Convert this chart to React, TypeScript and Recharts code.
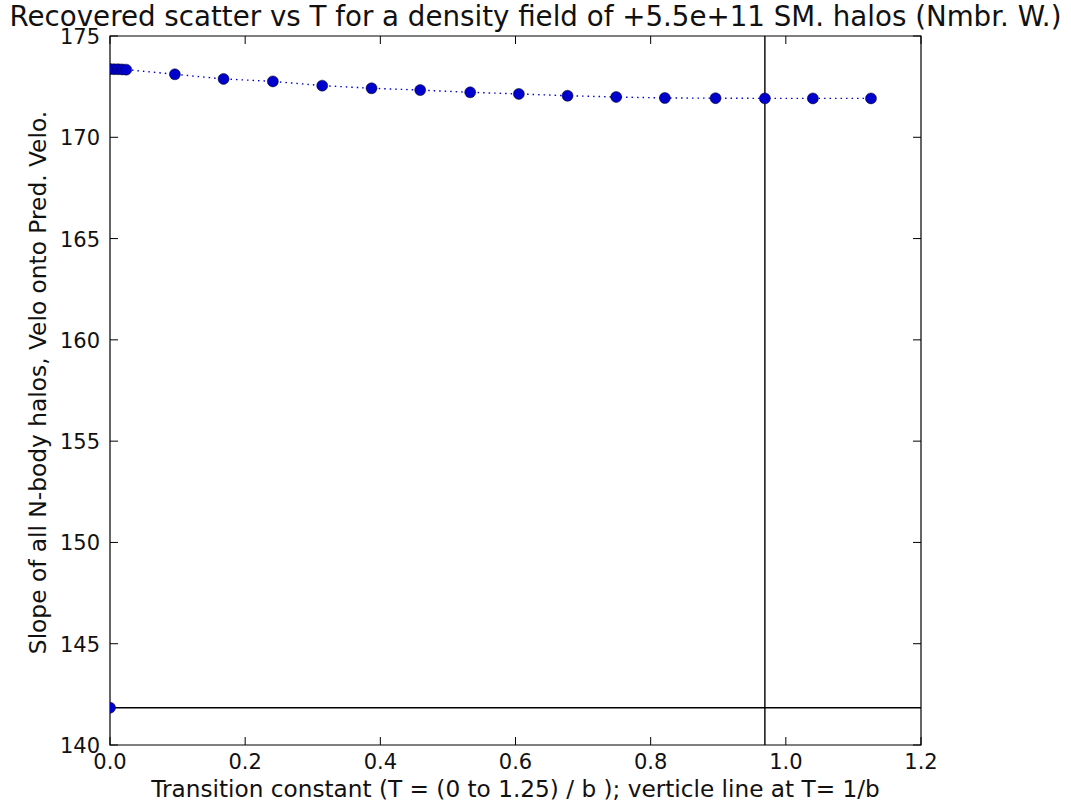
import { ScatterChart, Scatter, XAxis, YAxis, ReferenceLine, ReferenceArea } from "recharts"

// T values (x) and recovered slope (y) of the dotted series
const tValues = [0, 0.006, 0.012, 0.018, 0.024, 0.096, 0.168, 0.241, 0.314, 0.387, 0.459, 0.533, 0.605, 0.677, 0.749, 0.821, 0.896, 0.969, 1.04, 1.126]
const slopeValues = [173.37, 173.36, 173.36, 173.35, 173.34, 173.11, 172.88, 172.76, 172.55, 172.42, 172.33, 172.22, 172.14, 172.05, 171.99, 171.94, 171.93, 171.92, 171.92, 171.92]

// single reference point at T = 0
const baseT = [0]
const baseSlope = [141.84]

const verticalT = 0.969
const horizontalSlope = 141.84

const xTicks = [0, 0.2, 0.4, 0.6, 0.8, 1.0, 1.2]
const yTicks = [140, 145, 150, 155, 160, 165, 170, 175]

const title = "Recovered scatter vs T for a density field of +5.5e+11 SM. halos (Nmbr. W.)"
const xLabel = "Transition constant (T = (0 to 1.25) / b ); verticle line at T= 1/b"
const yLabel = "Slope of all N-body halos, Velo onto Pred. Velo."

const W = 1071
const H = 802
const LEFT = 110
const RIGHT = 921
const TOP = 36
const BOTTOM = 745
const TICK = 8
const FONT = "'DejaVu Sans', sans-serif"
const BLUE = "#0000cc"

const series = tValues.map((t, i) => ({ t, s: slopeValues[i] }))
const base = baseT.map((t, i) => ({ t, s: baseSlope[i] }))

const XTick = ({ x, payload }: any) => (
  <g>
    <line x1={x} x2={x} y1={BOTTOM} y2={BOTTOM - TICK} stroke="#000" />
    <line x1={x} x2={x} y1={TOP} y2={TOP + TICK} stroke="#000" />
    <text x={x} y={BOTTOM + 24} textAnchor="middle" fontSize={21} fontFamily={FONT} fill="#111">
      {payload.value.toFixed(1)}
    </text>
  </g>
)

const YTick = ({ y, payload }: any) => (
  <g>
    <line x1={LEFT} x2={LEFT + TICK} y1={y} y2={y} stroke="#000" />
    <line x1={RIGHT} x2={RIGHT - TICK} y1={y} y2={y} stroke="#000" />
    <text x={LEFT - 10} y={y + 8} textAnchor="end" fontSize={21} fontFamily={FONT} fill="#111">
      {payload.value}
    </text>
  </g>
)

const Dot = ({ cx, cy }: any) => (
  <circle cx={cx} cy={cy} r={5.5} fill={BLUE} stroke="#000" strokeWidth={0.5} />
)

export default function App() {
  return (
    <div style={{ position: "absolute", left: 0, top: 0, width: W, height: H, background: "#fff" }}>
      <div
        style={{
          position: "absolute",
          top: 1,
          left: 0,
          width: W,
          textAlign: "center",
          fontFamily: FONT,
          fontSize: 27.7,
          lineHeight: "32px",
          color: "#111",
          whiteSpace: "nowrap",
        }}
      >
        {title}
      </div>
      <ScatterChart width={W} height={H} margin={{ top: TOP, right: W - RIGHT, bottom: 0, left: 0 }}>
        <XAxis
          type="number"
          dataKey="t"
          domain={[0, 1.2]}
          ticks={xTicks}
          height={H - BOTTOM}
          tick={<XTick />}
          tickLine={false}
          axisLine={false}
          allowDataOverflow
          label={{ value: xLabel, position: "insideBottom", offset: 5, fontSize: 23.2, fontFamily: FONT, fill: "#111" }}
        />
        <YAxis
          type="number"
          dataKey="s"
          domain={[140, 175]}
          ticks={yTicks}
          width={LEFT}
          tick={<YTick />}
          tickLine={false}
          axisLine={false}
          allowDataOverflow
          label={{ value: yLabel, angle: -90, position: "insideLeft", offset: 38, dy: -8, fontSize: 23.3, fontFamily: FONT, fill: "#111", style: { textAnchor: "middle" } }}
        />
        <ReferenceArea x1={0} x2={1.2} y1={140} y2={175} fill="none" stroke="#000" strokeWidth={1.2} ifOverflow="visible" />
        <ReferenceLine x={verticalT} stroke="#000" strokeWidth={1.4} />
        <ReferenceLine y={horizontalSlope} stroke="#000" strokeWidth={1.4} />
        <Scatter
          data={series}
          fill={BLUE}
          shape={<Dot />}
          line={{ stroke: BLUE, strokeWidth: 1.4, strokeDasharray: "1.5 4" }}
          lineType="joint"
          isAnimationActive={false}
        />
        <Scatter data={base} fill={BLUE} shape={<Dot />} isAnimationActive={false} />
      </ScatterChart>
    </div>
  )
}
